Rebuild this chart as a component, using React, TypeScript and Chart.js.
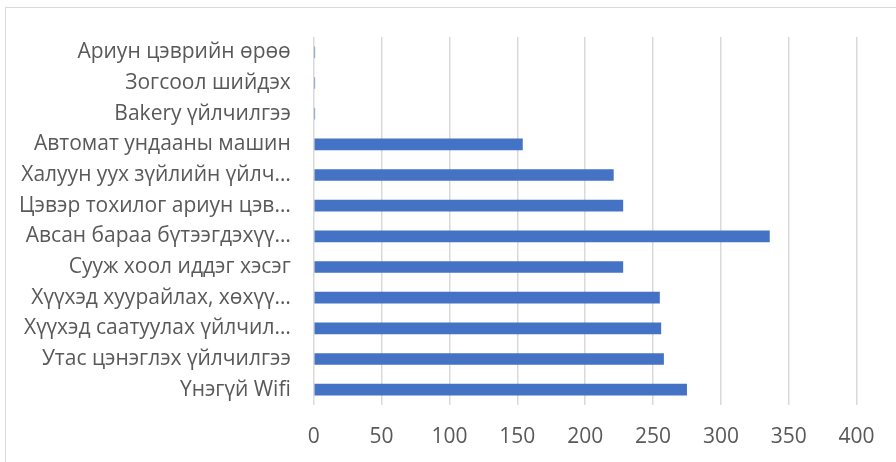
import React, { useEffect, useRef } from "react";
import { Chart, registerables } from "chart.js";

Chart.register(...registerables);

// Categories, listed top to bottom
const categories: string[] = [
  "Ариун цэврийн өрөө",
  "Зогсоол шийдэх",
  "Bakery үйлчилгээ",
  "Автомат ундааны машин",
  "Халуун уух зүйлийн үйлч…",
  "Цэвэр тохилог ариун цэв…",
  "Авсан бараа бүтээгдэхүү…",
  "Сууж хоол иддэг хэсэг",
  "Хүүхэд хуурайлах, хөхүү…",
  "Хүүхэд саатуулах үйлчил…",
  "Утас цэнэглэх үйлчилгээ",
  "Үнэгүй Wifi",
];

const counts: number[] = [1, 1, 1, 154, 221, 228, 336, 228, 255, 256, 258, 275];

const axisMin = 0;
const axisMax = 400;
const axisStep = 50;

const FONT = "'Open Sans', 'Noto Sans', sans-serif";
const TEXT = "#595959";
const GRID = "#d9d9d9";
const BAR = "#4472C4";

export default function App() {
  const canvasRef = useRef<HTMLCanvasElement | null>(null);

  useEffect(() => {
    const canvas = canvasRef.current;
    if (!canvas) return;
    const chart = new Chart(canvas, {
      type: "bar",
      data: {
        labels: categories,
        datasets: [
          {
            data: counts,
            backgroundColor: BAR,
            borderWidth: 0,
            barPercentage: 0.38,
            categoryPercentage: 1,
          },
        ],
      },
      options: {
        indexAxis: "y",
        responsive: false,
        animation: false,
        layout: { padding: { top: 37, right: 39.4, left: 0, bottom: 0 } },
        plugins: {
          legend: { display: false },
          tooltip: { enabled: false },
        },
        scales: {
          x: {
            min: axisMin,
            max: axisMax,
            ticks: {
              stepSize: axisStep,
              color: TEXT,
              font: { family: FONT, size: 21 },
              padding: 19,
            },
            grid: { color: GRID, lineWidth: 1.5, drawTicks: false },
            border: { display: false },
            afterFit: (scale: any) => {
              scale.height = 57;
            },
          },
          y: {
            ticks: {
              autoSkip: false,
              color: TEXT,
              font: { family: FONT, size: 21 },
              padding: 23,
            },
            grid: { display: false, drawTicks: false },
            border: { display: false },
            afterFit: (scale: any) => {
              scale.width = 313.75;
            },
          },
        },
      },
    });
    return () => chart.destroy();
  }, []);

  return (
    <div
      style={{
        position: "absolute",
        left: 0,
        top: 0,
        width: 896,
        height: 462,
        background: "#ffffff",
        overflow: "hidden",
      }}
    >
      <div
        style={{
          position: "absolute",
          left: 5,
          top: 7,
          width: 900,
          height: 470,
          borderLeft: "1.5px solid #d9d9d9",
          borderTop: "1.5px solid #d9d9d9",
        }}
      />
      <canvas
        ref={canvasRef}
        width={896}
        height={462}
        style={{ position: "absolute", left: 0, top: 0 }}
      />
    </div>
  );
}
